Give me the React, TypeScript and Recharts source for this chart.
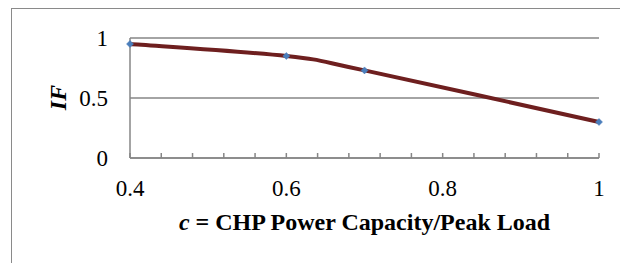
import React from "react";
import { LineChart, Line, XAxis, YAxis, CartesianGrid, Label } from "recharts";

const cValues = [0.4, 0.6, 0.7, 1.0];
const ifValues = [0.95, 0.85, 0.73, 0.3];
const xTickPositions = [0.4, 0.44, 0.48, 0.52, 0.56, 0.6, 0.64, 0.68, 0.72, 0.76, 0.8, 0.84, 0.88, 0.92, 0.96, 1.0];
const xTickLabels = [0.4, 0.6, 0.8, 1];
const yTicks = [0, 0.5, 1];
const xTitleItalic = "c";
const xTitleRest = " = CHP Power Capacity/Peak Load";
const yTitle = "IF";

const data = cValues.map((c, i) => ({ c, v: ifValues[i] }));

const FONT = "'Liberation Serif', 'Times New Roman', serif";
const GRID = "#868686";

// Excel-like smoothing (Catmull-Rom through the points)
function excelSmooth(context: any) {
  let pts: [number, number][] = [];
  return {
    areaStart() {},
    areaEnd() {},
    lineStart() {
      pts = [];
    },
    point(x: number, y: number) {
      pts.push([+x, +y]);
    },
    lineEnd() {
      const n = pts.length;
      if (n === 0) return;
      context.moveTo(pts[0][0], pts[0][1]);
      for (let i = 0; i < n - 1; i++) {
        const p0 = pts[Math.max(0, i - 1)];
        const p1 = pts[i];
        const p2 = pts[i + 1];
        const p3 = pts[Math.min(n - 1, i + 2)];
        const c1x = p1[0] + (p2[0] - p0[0]) / 6;
        const c1y = p1[1] + (p2[1] - p0[1]) / 6;
        const c2x = p2[0] - (p3[0] - p1[0]) / 6;
        const c2y = p2[1] - (p3[1] - p1[1]) / 6;
        context.bezierCurveTo(c1x, c1y, c2x, c2y, p2[0], p2[1]);
      }
    },
  };
}

const XTick = (props: any) => {
  const { x, y, payload } = props;
  const val = payload.value;
  const isMajor = xTickLabels.some((t) => Math.abs(t - val) < 1e-6);
  if (!isMajor) return <g />;
  return (
    <text x={x} y={y} dy="0.71em" textAnchor="middle" fontFamily={FONT} fontSize={23} fill="#000">
      {String(Number(val.toFixed(2)))}
    </text>
  );
};

const YTick = (props: any) => {
  const { x, y, payload } = props;
  return (
    <text x={x} y={y} dy="0.35em" textAnchor="end" fontFamily={FONT} fontSize={23} fill="#000">
      {String(payload.value)}
    </text>
  );
};

const Diamond = (props: any) => {
  const { cx, cy } = props;
  if (cx == null || cy == null) return <g />;
  const r = 3.5;
  return (
    <polygon
      points={`${cx},${cy - r} ${cx + r},${cy} ${cx},${cy + r} ${cx - r},${cy}`}
      fill="#4A7EBB"
      stroke="#4A7EBB"
      strokeWidth={0.5}
    />
  );
};

export default function App() {
  return (
    <div style={{ position: "absolute", left: 0, top: 0, width: 620, height: 263, overflow: "hidden", background: "#fff" }}>
      <div
        style={{
          position: "absolute",
          left: 11,
          top: 8,
          width: 700,
          height: 400,
          borderLeft: "1.5px solid #8a8a8a",
          borderTop: "1.5px solid #8a8a8a",
          boxSizing: "border-box",
        }}
      />
      <div style={{ position: "absolute", left: 0, top: 0 }}>
        <LineChart
          width={620}
          height={263}
          data={data}
          margin={{ top: 38, right: 21, bottom: 75, left: 70 }}
        >
          <CartesianGrid horizontal={true} vertical={false} stroke={GRID} strokeWidth={1.5} />
          <XAxis
            dataKey="c"
            type="number"
            domain={[0.4, 1]}
            ticks={xTickPositions}
            interval={0}
            height={30}
            tickSize={-5}
            tickMargin={27}
            tick={<XTick />}
            axisLine={{ stroke: GRID, strokeWidth: 1.5 }}
            tickLine={{ stroke: GRID, strokeWidth: 1.5 }}
            allowDecimals={true}
          >
            <Label
              content={(p: any) => {
                const vb = p.viewBox || {};
                const cx = vb.x + vb.width / 2;
                return (
                  <text x={cx} y={230} textAnchor="middle" fontFamily={FONT} fontSize={24} fontWeight="bold" fill="#000">
                    <tspan fontStyle="italic">{xTitleItalic}</tspan>
                    <tspan>{xTitleRest}</tspan>
                  </text>
                );
              }}
            />
          </XAxis>
          <YAxis
            type="number"
            domain={[0, 1]}
            ticks={yTicks}
            width={60}
            tickSize={0}
            tickMargin={22}
            tick={<YTick />}
            axisLine={{ stroke: GRID, strokeWidth: 1.5 }}
            tickLine={false}
          >
            <Label
              content={() => {
                return (
                  <text
                    x={0}
                    y={0}
                    transform={`translate(66, 97.5) rotate(-90)`}
                    textAnchor="middle"
                    fontFamily={FONT}
                    fontSize={24}
                    fontWeight="bold"
                    fontStyle="italic"
                    fill="#000"
                  >
                    {yTitle}
                  </text>
                );
              }}
            />
          </YAxis>
          <Line
            type={excelSmooth as any}
            dataKey="v"
            stroke="#6E1F1F"
            strokeWidth={4}
            dot={<Diamond />}
            activeDot={false}
            isAnimationActive={false}
          />
        </LineChart>
      </div>
    </div>
  );
}
